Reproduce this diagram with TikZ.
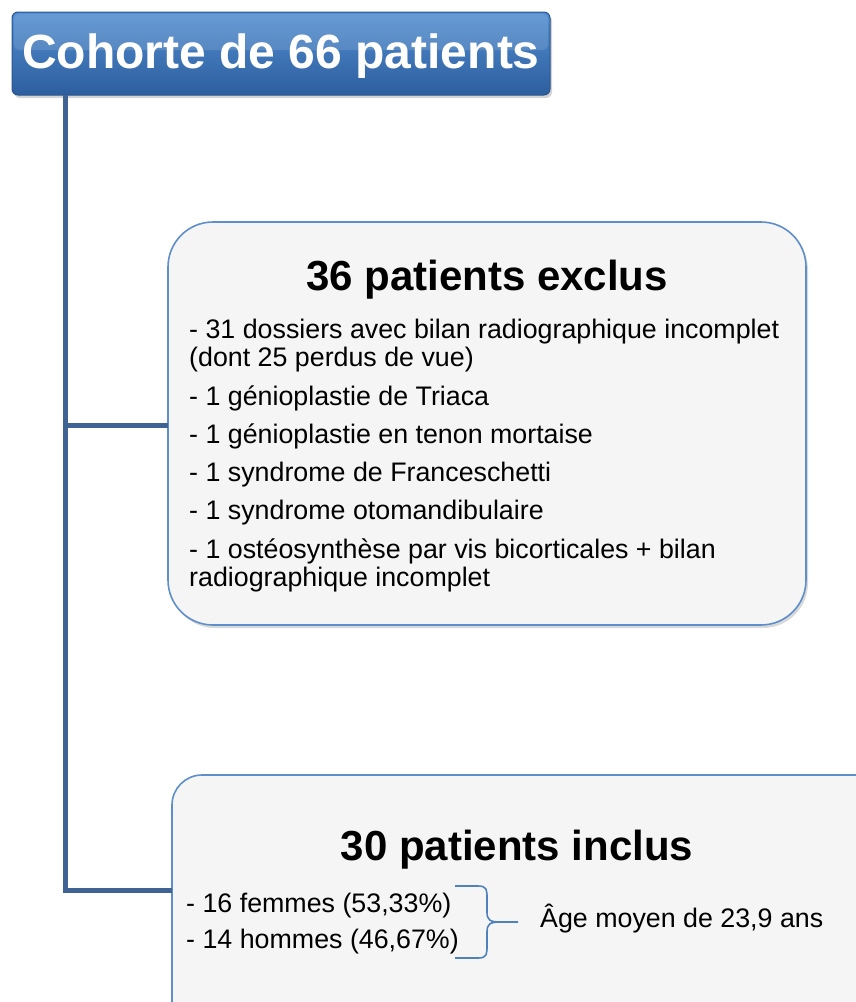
\documentclass[tikz,border=0pt]{standalone}
\usepackage{fontspec}
\setmainfont{Liberation Sans}
\usetikzlibrary{shadows}
\definecolor{linkblue}{RGB}{63,100,148}
\definecolor{boxedge}{RGB}{94,143,203}
\definecolor{boxfill}{RGB}{245,245,245}
\definecolor{toptop}{RGB}{82,142,208}
\definecolor{topbot}{RGB}{45,94,158}
\definecolor{topedge}{RGB}{40,85,145}
\definecolor{bracecol}{RGB}{79,129,189}
\tikzset{
  topbox/.style={rounded corners=6pt, top color=toptop, bottom color=topbot, draw=topedge, line width=1pt,
    drop shadow={opacity=0.35, shadow xshift=2pt, shadow yshift=-3pt}},
  panel/.style={draw=boxedge, line width=1.6pt, fill=boxfill,
    drop shadow={opacity=0.3, shadow xshift=2pt, shadow yshift=-3pt}},
  link/.style={draw=linkblue, line width=5pt},
  bigtitle/.style={font=\fontsize{48}{52}\selectfont\bfseries, text=white, anchor=base, inner sep=0pt},
  paneltitle/.style={font=\fontsize{42}{46}\selectfont\bfseries, anchor=base, inner sep=0pt},
  item/.style={font=\fontsize{26.8}{30}\selectfont, anchor=base west, inner sep=0pt},
  bracestyle/.style={draw=bracecol, line width=1.6pt},
}
\begin{document}
\begin{tikzpicture}[x=1pt,y=-1pt]
\useasboundingbox (0,0) rectangle (856,1002);
\begin{scope}
\clip (0,0) rectangle (856,1002);
% top box
\path[topbox] (12,12) rectangle (550,95);
\path[fill=white, opacity=0.12, rounded corners=5pt] (14,14) rectangle (548,50);
\node[bigtitle] (cohort) at (281,68) {Cohorte de 66 patients};
\coordinate (trunktop) at (65,95);
% middle panel
\path[panel, rounded corners=45pt] (168,222) rectangle (806,625);
\coordinate (exclL) at (168,425);
\node[paneltitle] (excl) at (487,290) {36 patients exclus};
\node[item] (e1) at (189,338) {- 31 dossiers avec bilan radiographique incomplet};
\node[item] (e1b) at (189,366) {(dont 25 perdus de vue)};
\node[item] (e2) at (189,405) {- 1 génioplastie de Triaca};
\node[item] (e3) at (189,443) {- 1 génioplastie en tenon mortaise};
\node[item] (e4) at (189,481) {- 1 syndrome de Franceschetti};
\node[item] (e5) at (189,519) {- 1 syndrome otomandibulaire};
\node[item] (e6) at (189,558) {- 1 ostéosynthèse par vis bicorticales + bilan};
\node[item] (e6b) at (189,586) {radiographique incomplet};
% bottom panel
\path[panel, rounded corners=30pt] (172,775) rectangle (900,1060);
\coordinate (inclL) at (172,890);
\node[paneltitle] (incl) at (517,860) {30 patients inclus};
\node[item] (f) at (186,912) {- 16 femmes (53,33\%)};
\node[item] (h) at (186,948) {- 14 hommes (46,67\%)};
\node[item] (age) at (540,927) {Âge moyen de 23,9 ans};
% links
\draw[link] (trunktop) |- (inclL);
\draw[link] (trunktop |- exclL) -- (exclL);
% brace
\coordinate (bt) at (455,886);
\coordinate (bb) at (455,958);
\coordinate (btip) at (518,922);
\draw[bracestyle] (bt) -- (478,886) .. controls (487,886) and (487,890) .. (487,898)
  -- (487,912) .. controls (487,920) and (490,922) .. (500,922) -- (btip);
\draw[bracestyle] (bb) -- (478,958) .. controls (487,958) and (487,954) .. (487,946)
  -- (487,932) .. controls (487,924) and (490,922) .. (500,922);
\end{scope}
\end{tikzpicture}
\end{document}
